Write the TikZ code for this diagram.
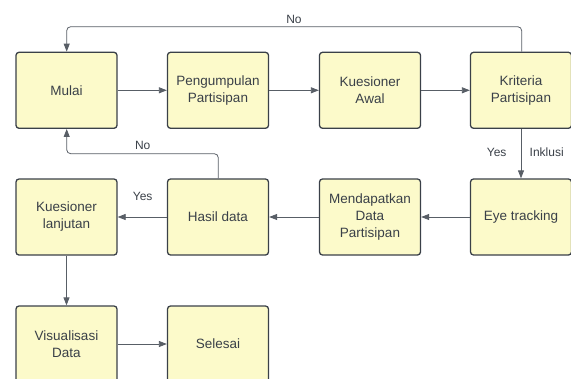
\documentclass[tikz,border=0pt]{standalone}
\usepackage{fontspec}
\setmainfont{Liberation Sans}
\usetikzlibrary{arrows.meta}
\definecolor{boxfill}{RGB}{252,250,202}
\definecolor{boxline}{RGB}{58,64,72}
\definecolor{txt}{RGB}{58,64,72}
\definecolor{conn}{RGB}{88,94,102}
\tikzset{
  stepbox/.style={draw=boxline, fill=boxfill, line width=1.3pt, rounded corners=3pt,
    minimum width=101pt, minimum height=76pt, align=center, text=txt,
    font=\fontsize{13.5}{17}\selectfont, inner sep=2pt},
  conn/.style={draw=conn, line width=0.8pt, -{Triangle[length=8pt,width=6pt]}},
  lbl/.style={text=txt, font=\fontsize{12}{14}\selectfont, inner sep=1pt}
}
\begin{document}
\begin{tikzpicture}[x=1pt,y=-1pt]
\useasboundingbox (0,0) rectangle (571,378);
\node[stepbox] (mulai) at (66.5,90.3) {Mulai};
\node[stepbox] (peng) at (218,90.3) {Pengumpulan\\Partisipan};
\node[stepbox] (kawal) at (370,90.3) {Kuesioner\\Awal};
\node[stepbox] (krit) at (521,90.3) {Kriteria\\Partisipan};
\node[stepbox] (klanj) at (66.5,217) {Kuesioner\\lanjutan};
\node[stepbox] (hasil) at (218,217) {Hasil data};
\node[stepbox] (mend) at (370,217) {Mendapatkan\\Data\\Partisipan};
\node[stepbox] (eye) at (521,217) {Eye tracking};
\node[stepbox] (vis) at (66.5,344) {Visualisasi\\Data};
\node[stepbox] (sel) at (218,344) {Selesai};

\draw[conn] (mulai) -- (peng);
\draw[conn] (peng) -- (kawal);
\draw[conn] (kawal) -- (krit);
\draw[conn] (krit) -- (eye);
\draw[conn] (eye) -- (mend);
\draw[conn] (mend) -- (hasil);
\draw[conn] (hasil) -- (klanj);
\draw[conn] (klanj) -- (vis);
\draw[conn] (vis) -- (sel);

\coordinate (t1) at (521.7,26.7);
\coordinate (t2) at (66.7,26.7);
\draw[conn, rounded corners=4pt] (krit.north -| t1) -- (t1) -- (t2) -- (mulai.north -| t2);
\coordinate (b1) at (218.3,153.7);
\coordinate (b2) at (66.7,153.7);
\draw[conn, rounded corners=4pt] (hasil.north -| b1) -- (b1) -- (b2) -- (mulai.south -| b2);

\node[lbl] (no1) at (294,19) {No};
\node[lbl] (no2) at (142.7,145.7) {No};
\node[lbl] (yes1) at (496.7,152) {Yes};
\node[lbl] (inkl) at (546.7,152) {Inklusi};
\node[lbl] (yes2) at (142.7,196) {Yes};
\end{tikzpicture}
\end{document}
